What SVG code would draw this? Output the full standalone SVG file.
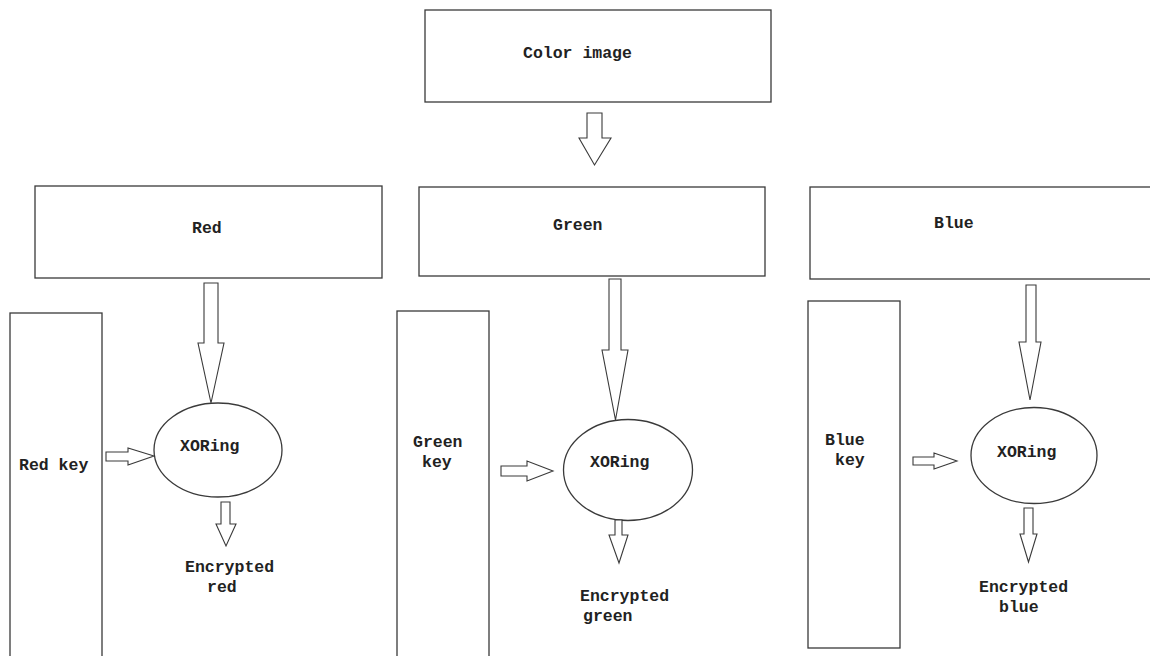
<svg xmlns="http://www.w3.org/2000/svg" width="1150" height="656" viewBox="0 0 1150 656">
<style>
.box{fill:#fff;stroke:#3a3a3a;stroke-width:1.3}
.arr{fill:#fff;stroke:#3a3a3a;stroke-width:1.1;stroke-linejoin:miter}
text{font-family:"Liberation Mono","Courier New",monospace;font-size:16.5px;font-weight:bold;fill:#222}
</style>
<rect width="1150" height="656" fill="#fff"/>
<g id="color-image"><rect class="box" x="425" y="10" width="346" height="92"/><text x="523" y="58">Color image</text></g>
<g id="red"><rect class="box" x="35" y="186" width="347" height="92"/><text x="192" y="233">Red</text></g>
<g id="green"><rect class="box" x="419" y="187" width="346" height="89"/><text x="553" y="230">Green</text></g>
<g id="blue"><rect class="box" x="810" y="187" width="360" height="92"/><text x="934" y="228">Blue</text></g>
<g id="red-key"><rect class="box" x="10" y="313" width="92" height="360"/><text x="19" y="470">Red key</text></g>
<g id="green-key"><rect class="box" x="397" y="311" width="92" height="360"/><text x="413" y="447">Green</text><text x="422" y="467">key</text></g>
<g id="blue-key"><rect class="box" x="808" y="301" width="92" height="347"/><text x="825" y="445">Blue</text><text x="835" y="465">key</text></g>
<g id="xor-red"><ellipse class="box" cx="218" cy="450" rx="64" ry="47"/><text x="180" y="451">XORing</text></g>
<g id="xor-green"><ellipse class="box" cx="628" cy="470" rx="64.5" ry="50.5"/><text x="590" y="467">XORing</text></g>
<g id="xor-blue"><ellipse class="box" cx="1034" cy="455.5" rx="63" ry="48"/><text x="997" y="457">XORing</text></g>
<g id="enc-red"><text x="185" y="572">Encrypted</text><text x="207" y="592">red</text></g>
<g id="enc-green"><text x="580" y="601">Encrypted</text><text x="583" y="621">green</text></g>
<g id="enc-blue"><text x="979" y="592">Encrypted</text><text x="999" y="612">blue</text></g>
<g id="connectors">
<path class="arr" d="M587,113 H602 V138 H611 L594.5,165 L579,138 H587 Z"/>
<path class="arr" d="M204,283 H218 V343 H224 L211,403 L198,343 H204 Z"/>
<path class="arr" d="M609,279 H621 V350 H628 L615.5,420 L602,350 H609 Z"/>
<path class="arr" d="M1026,285 H1036 V342 H1041 L1030,400 L1019,342 H1026 Z"/>
<path class="arr" d="M106,452 V461 H128 V465 L154,456 L128,448 V452 Z"/>
<path class="arr" d="M501,466 V476 H527 V481 L553,471 L527,461 V466 Z"/>
<path class="arr" d="M913,457 V465 H934 V469 L957,461 L934,453 V457 Z"/>
<path class="arr" d="M221,502 H230 V524 H236 L226,546 L216,524 H221 Z"/>
<path class="arr" d="M615,520 H622 V535 H628 L619,563 L609,535 H615 Z"/>
<path class="arr" d="M1024,508 H1033 V534 H1037 L1028.5,562 L1020,534 H1024 Z"/>
</g>
</svg>
